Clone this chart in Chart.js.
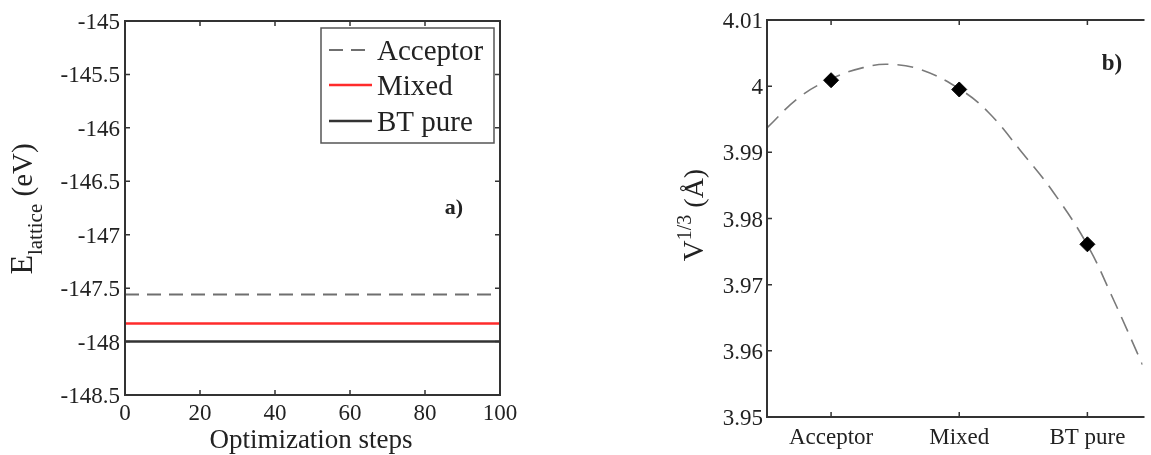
<!DOCTYPE html>
<html>
<head>
<meta charset="utf-8">
<title>Lattice energy and cell size</title>
<script src="https://cdn.jsdelivr.net/npm/chart.js@4.4.0/dist/chart.umd.min.js"></script>
<style>
  html, body { margin: 0; padding: 0; background: #fff; overflow: hidden; }
  #panelA { position: absolute; left: 0; top: 0; width: 520px; height: 455px; }
  #panelB { position: absolute; left: 560px; top: 0; width: 591px; height: 455px; }
</style>
</head>
<body>
<div id="panelA"><canvas id="energyChart"></canvas></div>
<div id="panelB"><canvas id="volumeChart"></canvas></div>
<script>
// ---- panel a) : lattice energy during optimization ----
var steps = [0, 100];
var acceptorEnergy = [-147.56, -147.56];
var mixedEnergy = [-147.83, -147.83];
var pureEnergy = [-148.0, -148.0];

// ---- panel b) : cube root of cell volume ----
var compositions = ['Acceptor', 'Mixed', 'BT pure'];
var compositionPos = [1, 2, 3];
var cellEdge = [4.0009, 3.9995, 3.9761];
// dashed fit curve
var fitPos = [0.5, 0.75, 1.0, 1.25, 1.45, 1.7, 2.0, 2.225, 2.485, 2.737, 3.0, 3.195, 3.43];
var fitEdge = [3.9937, 3.9983, 4.0011, 4.0028, 4.0033, 4.0025, 3.9996, 3.9961, 3.9901, 3.9839, 3.9760, 3.9681, 3.9579];

var SERIF = '"Liberation Serif", "Times New Roman", serif';
var INK = '#222';
var FRAME = '#333';

function pairs(xs, ys) {
  return xs.map(function (x, i) { return { x: x, y: ys[i] }; });
}

function tickText(value) {
  return String(+value.toFixed(3));
}

// MATLAB style box with inward ticks, tick labels in serif
var framePlugin = {
  id: 'frame',
  afterDatasetsDraw: function (chart, args, opts) {
    var ctx = chart.ctx, a = chart.chartArea;
    var xs = chart.scales.x, ys = chart.scales.y;
    var len = 5;
    ctx.save();
    ctx.strokeStyle = FRAME;
    ctx.lineWidth = 2;
    ctx.beginPath();
    if (opts.right) {
      ctx.rect(a.left, a.top, a.right - a.left, a.bottom - a.top);
    } else {
      ctx.moveTo(a.right + 2, a.top);
      ctx.lineTo(a.left, a.top);
      ctx.lineTo(a.left, a.bottom);
      ctx.lineTo(a.right + 2, a.bottom);
    }
    ctx.stroke();
    ctx.lineWidth = 1.5;
    ctx.beginPath();
    xs.ticks.forEach(function (t) {
      var px = xs.getPixelForValue(t.value);
      ctx.moveTo(px, a.top); ctx.lineTo(px, a.top + len);
      ctx.moveTo(px, a.bottom); ctx.lineTo(px, a.bottom - len);
    });
    ys.ticks.forEach(function (t) {
      var py = ys.getPixelForValue(t.value);
      ctx.moveTo(a.left, py); ctx.lineTo(a.left + len, py);
      if (opts.right) { ctx.moveTo(a.right, py); ctx.lineTo(a.right - len, py); }
    });
    ctx.stroke();

    // tick labels
    ctx.fillStyle = INK;
    ctx.font = '23px ' + SERIF;
    ctx.textBaseline = 'alphabetic';
    ctx.textAlign = 'center';
    xs.ticks.forEach(function (t) {
      var text = xs.options.ticks.callback.call(xs, t.value);
      ctx.fillText(text, xs.getPixelForValue(t.value), a.bottom + opts.xLabelDrop);
    });
    ctx.textAlign = 'right';
    ys.ticks.forEach(function (t) {
      ctx.fillText(tickText(t.value), a.left - opts.yLabelGap, ys.getPixelForValue(t.value) + 8);
    });
    ctx.restore();
  }
};

function drawRotated(ctx, cx, cy, parts) {
  ctx.save();
  ctx.translate(cx, cy);
  ctx.rotate(-Math.PI / 2);
  var total = 0;
  parts.forEach(function (p) {
    ctx.font = p.size + 'px ' + SERIF;
    p.w = ctx.measureText(p.text).width;
    total += p.w;
  });
  var x = -total / 2;
  ctx.textAlign = 'left';
  ctx.textBaseline = 'alphabetic';
  ctx.fillStyle = INK;
  parts.forEach(function (p) {
    ctx.font = p.size + 'px ' + SERIF;
    ctx.fillText(p.text, x, p.shift);
    x += p.w;
  });
  ctx.restore();
}

var labelsA = {
  id: 'labelsA',
  afterDraw: function (chart) {
    var ctx = chart.ctx;
    drawRotated(ctx, 32, 209, [
      { text: 'E', size: 32, shift: 0 },
      { text: 'lattice', size: 21, shift: 10 },
      { text: ' (eV)', size: 29, shift: 0 }
    ]);
    ctx.save();
    ctx.fillStyle = INK;
    ctx.textAlign = 'center';
    ctx.textBaseline = 'alphabetic';
    ctx.font = '27px ' + SERIF;
    ctx.fillText('Optimization steps', 311, 448);
    ctx.font = 'bold 22px ' + SERIF;
    ctx.fillText('a)', 454, 214);

    // legend box
    ctx.fillStyle = '#fff';
    ctx.fillRect(321, 28, 173, 115);
    ctx.strokeStyle = '#555';
    ctx.lineWidth = 1.5;
    ctx.strokeRect(321, 28, 173, 115);
    var rows = [50, 85, 121];
    chart.data.datasets.forEach(function (ds, i) {
      var y = rows[i];
      ctx.strokeStyle = ds.borderColor;
      ctx.lineWidth = ds.borderWidth;
      ctx.setLineDash(ds.borderDash || []);
      ctx.beginPath();
      ctx.moveTo(329, y); ctx.lineTo(372, y);
      ctx.stroke();
      ctx.setLineDash([]);
      ctx.fillStyle = INK;
      ctx.textAlign = 'left';
      ctx.font = '29px ' + SERIF;
      ctx.fillText(ds.label, 377, y + 10);
    });
    ctx.restore();
  }
};

var labelsB = {
  id: 'labelsB',
  afterDraw: function (chart) {
    var ctx = chart.ctx;
    drawRotated(ctx, 143, 215, [
      { text: 'V', size: 29, shift: 0 },
      { text: '1/3', size: 20, shift: -12 },
      { text: ' (\u00C5)', size: 28, shift: 0 }
    ]);
    ctx.save();
    ctx.fillStyle = INK;
    ctx.textAlign = 'center';
    ctx.font = 'bold 23px ' + SERIF;
    ctx.fillText('b)', 552, 70);
    ctx.restore();
  }
};

new Chart(document.getElementById('energyChart'), {
  type: 'line',
  data: {
    datasets: [
      {
        label: 'Acceptor',
        data: pairs(steps, acceptorEnergy),
        borderColor: '#6f6f6f',
        borderWidth: 2,
        borderDash: [14, 8],
        pointRadius: 0
      },
      {
        label: 'Mixed',
        data: pairs(steps, mixedEnergy),
        borderColor: '#ff2b2b',
        borderWidth: 2.5,
        pointRadius: 0
      },
      {
        label: 'BT pure',
        data: pairs(steps, pureEnergy),
        borderColor: '#333333',
        borderWidth: 2.5,
        pointRadius: 0
      }
    ]
  },
  options: {
    responsive: true,
    maintainAspectRatio: false,
    animation: false,
    layout: { padding: { top: 21, right: 20, bottom: 0, left: 0 } },
    plugins: {
      legend: { display: false },
      tooltip: { enabled: false },
      frame: { right: true, xLabelDrop: 25, yLabelGap: 5 }
    },
    scales: {
      x: {
        type: 'linear',
        min: 0,
        max: 100,
        grid: { display: false },
        border: { display: false },
        ticks: { display: false, stepSize: 20, callback: tickText },
        afterFit: function (s) { s.height = 60; }
      },
      y: {
        min: -148.5,
        max: -145,
        grid: { display: false },
        border: { display: false },
        ticks: { display: false, stepSize: 0.5, callback: tickText },
        afterFit: function (s) { s.width = 125; }
      }
    }
  },
  plugins: [framePlugin, labelsA]
});

new Chart(document.getElementById('volumeChart'), {
  type: 'line',
  data: {
    datasets: [
      {
        label: 'V^1/3',
        data: pairs(compositionPos, cellEdge),
        showLine: false,
        pointStyle: 'rectRot',
        pointRadius: 7.5,
        pointBackgroundColor: '#000',
        pointBorderColor: '#000',
        pointBorderWidth: 1
      },
      {
        label: 'fit',
        data: pairs(fitPos, fitEdge),
        borderColor: '#7a7a7a',
        borderWidth: 1.6,
        borderDash: [16, 9],
        tension: 0.4,
        pointRadius: 0
      }
    ]
  },
  options: {
    responsive: true,
    maintainAspectRatio: false,
    animation: false,
    layout: { padding: { top: 20, right: 0, bottom: 0, left: 0 } },
    plugins: {
      legend: { display: false },
      tooltip: { enabled: false },
      frame: { right: false, xLabelDrop: 27, yLabelGap: 4 }
    },
    scales: {
      x: {
        type: 'linear',
        min: 0.5,
        max: 3.43,
        grid: { display: false },
        border: { display: false },
        afterBuildTicks: function (s) {
          s.ticks = compositionPos.map(function (v) { return { value: v }; });
        },
        ticks: {
          display: false,
          autoSkip: false,
          callback: function (v) { return compositions[compositionPos.indexOf(v)]; }
        },
        afterFit: function (s) { s.height = 38; }
      },
      y: {
        min: 3.95,
        max: 4.01,
        grid: { display: false },
        border: { display: false },
        ticks: { display: false, stepSize: 0.01, callback: tickText },
        afterFit: function (s) { s.width = 207; }
      }
    }
  },
  plugins: [framePlugin, labelsB]
});
</script>
</body>
</html>
